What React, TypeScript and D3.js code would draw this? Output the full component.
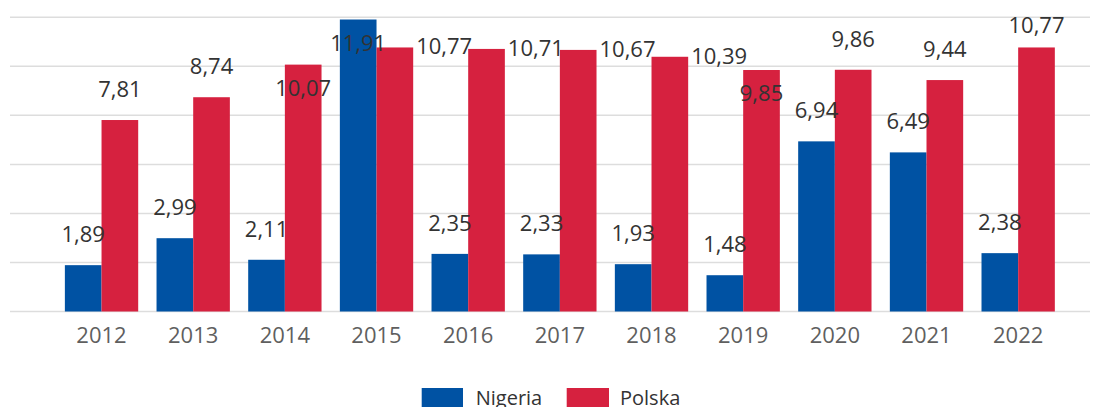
import React from 'react';
import * as d3 from 'd3';

const years = ['2012', '2013', '2014', '2015', '2016', '2017', '2018', '2019', '2020', '2021', '2022'];
const nigeria = [1.89, 2.99, 2.11, 11.91, 2.35, 2.33, 1.93, 1.48, 6.94, 6.49, 2.38];
const polska = [7.81, 8.74, 10.07, 10.77, 10.71, 10.67, 10.39, 9.85, 9.86, 9.44, 10.77];
const yTicks = [0, 2, 4, 6, 8, 10, 12];
const seriesNames = ['Nigeria', 'Polska'];

// label placement (layout config)
const nigeriaPlacement = ['above', 'above', 'above', 'inside', 'above', 'above', 'above', 'above', 'above', 'above', 'above'];
const polskaPlacement = ['above', 'above', 'inside', 'right', 'right', 'right', 'right', 'inside', 'above', 'above', 'above'];

const W = 1096;
const H = 407;
const COLORS = ['#0052a3', '#d6213f'];
const FONT = '"Open Sans", "Noto Sans", sans-serif';

const fmt = (v: number) => v.toFixed(2).replace('.', ',');

export default function App() {
  const x = d3.scaleBand<string>().domain(years).range([55.7, 1064]).paddingInner(0.2).paddingOuter(0.1);
  const x1 = d3.scaleBand<string>().domain(seriesNames).range([0, x.bandwidth()]);
  const y = d3.scaleLinear().domain([0, 12]).range([311.5, 17.3]);

  const series = [nigeria, polska];
  const placements = [nigeriaPlacement, polskaPlacement];

  const labelFor = (v: number, yi: number, si: number) => {
    const bx = (x(years[yi]) as number) + (x1(seriesNames[si]) as number);
    const bw = x1.bandwidth();
    const top = y(v);
    const p = placements[si][yi];
    if (p === 'right') {
      return { x: bx + bw + 3, y: top + 7, anchor: 'start' };
    }
    if (p === 'inside') {
      return { x: bx + bw / 2, y: top + 31, anchor: 'middle' };
    }
    return { x: bx + bw / 2, y: Math.max(top - 23, 33), anchor: 'middle' };
  };

  return (
    <svg
      width={W}
      height={H}
      style={{ position: 'absolute', left: 0, top: 0, background: '#fff' }}
      fontFamily={FONT}
    >
      <g>
        {yTicks.map((t) => (
          <line key={t} x1={10} x2={1090} y1={y(t)} y2={y(t)} stroke="#dddddd" strokeWidth={1.5} />
        ))}
      </g>
      <g>
        {series.map((vals, si) =>
          vals.map((v, yi) => {
            const bx = (x(years[yi]) as number) + (x1(seriesNames[si]) as number);
            return (
              <rect
                key={`${si}-${yi}`}
                x={bx}
                y={y(v)}
                width={x1.bandwidth()}
                height={y(0) - y(v)}
                fill={COLORS[si]}
              />
            );
          })
        )}
      </g>
      <g fontSize={22} fill="#5f5f5f">
        {years.map((yr) => (
          <text key={yr} x={(x(yr) as number) + x.bandwidth() / 2} y={343} textAnchor="middle">
            {yr}
          </text>
        ))}
      </g>
      <g fontSize={22} fill="#333333">
        {series.map((vals, si) =>
          vals.map((v, yi) => {
            const l = labelFor(v, yi, si);
            return (
              <text key={`l${si}-${yi}`} x={l.x} y={l.y} textAnchor={l.anchor as any}>
                {fmt(v)}
              </text>
            );
          })
        )}
      </g>
      <g fontSize={20} fill="#333333">
        <rect x={421.7} y={388} width={41.3} height={20} fill={COLORS[0]} />
        <text x={475.7} y={404.5}>{seriesNames[0]}</text>
        <rect x={566.7} y={388} width={42.3} height={20} fill={COLORS[1]} />
        <text x={620} y={404.5}>{seriesNames[1]}</text>
      </g>
    </svg>
  );
}
